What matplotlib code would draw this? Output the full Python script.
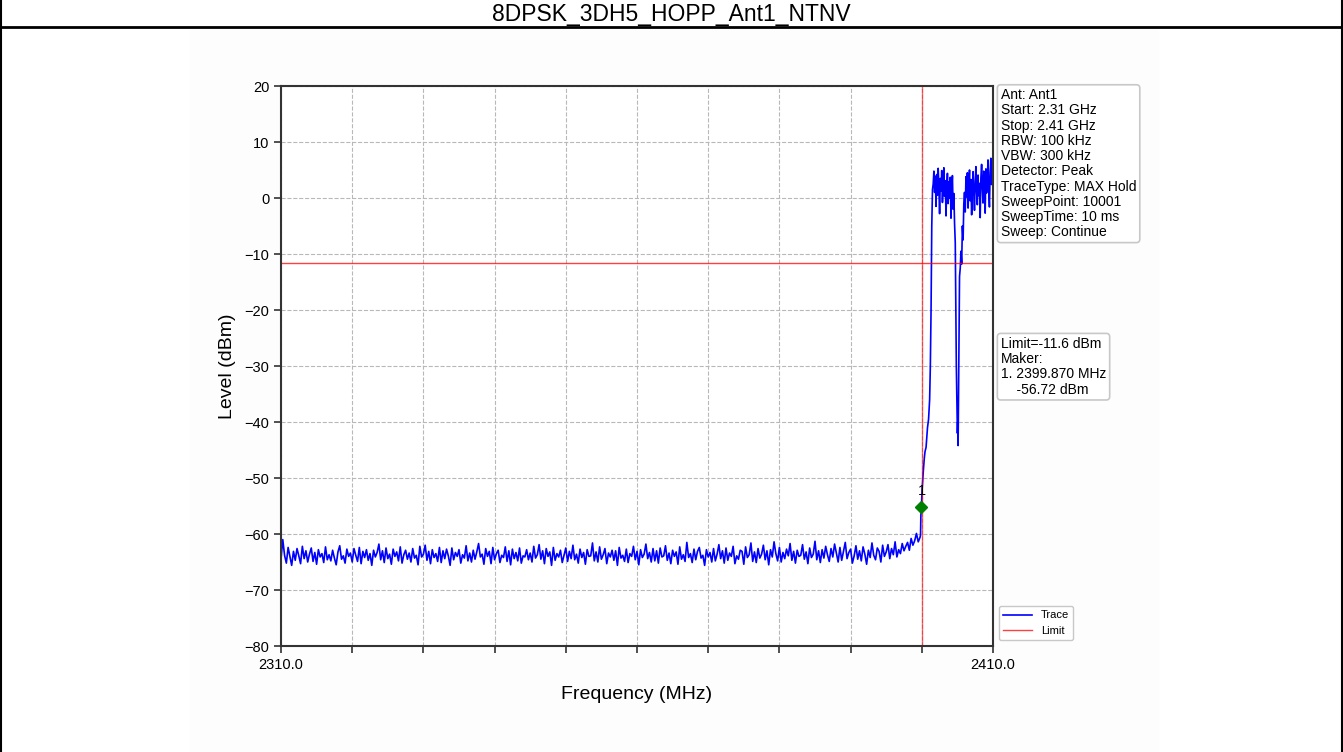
import numpy as np
import matplotlib.pyplot as plt
from matplotlib.patches import Rectangle
from matplotlib.lines import Line2D

plt.rcParams['font.family'] = ['Liberation Sans', 'DejaVu Sans']

title = '8DPSK_3DH5_HOPP_Ant1_NTNV'

# noise floor, one reading every 0.25 MHz from 2310.0
noise_start = 2310.0
noise_step = 0.25
noise_level = [
    -64.5, -61.0, -63.8, -65.2, -62.4, -64.0, -65.6, -63.1, -64.7, -62.6,
    -63.9, -65.3, -62.2, -64.4, -63.0, -65.0, -63.6, -62.5, -64.9, -63.3,
    -65.4, -62.8, -64.1, -63.5, -65.1, -62.3, -64.6, -63.7, -64.8, -62.9,
    -64.3, -65.5, -63.2, -62.1, -64.5, -63.9, -65.2, -62.7, -64.0, -63.4,
    -65.0, -62.6, -63.8, -64.9, -62.4, -65.3, -63.1, -64.2, -62.8, -64.7,
    -63.5, -65.6, -62.9, -64.1, -63.3, -61.8, -64.6, -63.0, -65.1, -62.5,
    -64.4, -63.6, -65.4, -62.7, -64.0, -63.2, -64.8, -62.3, -65.2, -63.7,
    -62.9, -64.5, -63.4, -65.0, -62.6, -64.3, -63.8, -65.5, -62.2, -64.1,
    -63.6, -62.0, -64.7, -63.1, -65.3, -62.8, -64.2, -63.5, -64.9, -62.4,
    -65.1, -63.0, -64.4, -62.7, -63.9, -65.6, -62.5, -64.6, -63.3, -64.0,
    -62.8, -65.2, -63.7, -64.3, -62.1, -64.8, -63.4, -65.0, -62.9, -64.5,
    -63.2, -61.7, -64.1, -63.6, -65.4, -62.6, -64.0, -63.1, -65.3, -62.4,
    -64.6, -63.5, -62.9, -65.1, -63.8, -64.2, -62.3, -64.9, -63.0, -65.5,
    -62.7, -64.4, -63.3, -64.8, -62.5, -65.2, -63.9, -64.1, -62.8, -64.6,
    -63.4, -65.0, -62.2, -64.3, -63.7, -61.9, -64.5, -63.0, -65.3, -62.6,
    -64.0, -63.2, -65.6, -62.4, -64.7, -63.5, -64.1, -62.9, -65.1, -63.8,
    -62.5, -64.9, -63.1, -64.4, -62.0, -64.6, -63.6, -65.2, -62.7, -64.2,
    -63.3, -65.4, -62.8, -64.0, -63.9, -61.6, -64.8, -63.2, -65.0, -62.3,
    -64.5, -63.7, -62.6, -65.3, -63.4, -64.1, -62.9, -64.7, -63.0, -65.6,
    -62.4, -64.3, -63.8, -64.9, -62.7, -65.1, -63.5, -64.0, -62.2, -64.6,
    -63.1, -65.5, -62.8, -64.2, -63.6, -61.8, -64.4, -63.3, -65.0, -62.6,
    -64.8, -63.0, -65.2, -62.5, -64.1, -63.9, -62.1, -64.7, -63.4, -65.3,
    -62.9, -64.0, -63.2, -65.4, -62.3, -64.5, -63.7, -64.9, -61.5, -64.2,
    -63.5, -65.1, -62.7, -64.6, -63.1, -62.4, -64.3, -63.8, -65.6, -62.8,
    -64.1, -63.3, -65.0, -62.6, -64.8, -63.6, -61.9, -64.4, -63.0, -65.2,
    -62.5, -64.7, -63.4, -64.0, -62.2, -65.3, -63.9, -64.5, -62.9, -63.1,
    -65.4, -62.3, -64.2, -63.7, -61.6, -64.9, -63.2, -65.1, -62.6, -64.3,
    -63.6, -62.0, -64.6, -63.0, -65.5, -62.8, -64.1, -61.4, -63.5, -64.8,
    -62.4, -65.0, -63.3, -64.4, -62.7, -63.9, -61.7, -64.7, -63.1, -65.2,
    -62.9, -64.0, -63.8, -61.9, -64.5, -63.2, -65.3, -62.5, -64.2, -63.6,
    -61.3, -64.6, -63.0, -65.1, -62.8, -64.3, -62.2, -63.7, -64.9, -62.6,
    -64.1, -61.8, -63.4, -65.0, -62.4, -64.7, -63.1, -61.5, -64.4, -63.3,
    -62.7, -65.2, -63.9, -62.1, -64.5, -63.0, -64.8, -62.3, -63.6, -65.4,
    -62.9, -64.2, -61.6, -63.8, -64.6, -62.5, -63.1, -65.0, -62.0, -64.0,
    -63.2, -61.9, -64.4, -62.6, -63.7, -61.4, -64.1, -62.8, -63.5, -61.7,
    -63.0, -62.2, -61.5, -62.9, -60.8, -62.0, -61.2, -59.9, -61.4, -60.6,
]

# band edge and in-band part of the sweep
edge_freq = [2399.82, 2399.87, 2399.95, 2400.05, 2400.2, 2400.35,
             2400.45, 2400.6, 2400.8, 2400.95, 2401.1, 2401.2, 2401.3, 2401.4, 2401.5]
edge_level = [-60.2, -56.7, -55.0, -52.0, -49.0, -46.5,
              -45.3, -44.5, -41.0, -39.5, -36.0, -30.0, -20.0, -5.0, 1.5]

band1_freq = [2401.6, 2401.7, 2401.8, 2401.9, 2402.0, 2402.1, 2402.2, 2402.3, 2402.4, 2402.5,
              2402.6, 2402.7, 2402.8, 2402.9, 2403.0, 2403.1, 2403.2, 2403.3, 2403.4, 2403.5,
              2403.6, 2403.7, 2403.8, 2403.9, 2404.0, 2404.1, 2404.2, 2404.3, 2404.4, 2404.5,
              2404.6]
band1_level = [2.5, 4.8, 1.0, 3.9, -1.5, 4.2, 0.5, 5.3, 2.0, -2.8,
               3.5, 1.2, 4.9, -0.8, 2.7, 5.4, 0.3, 3.1, -3.2, 1.8,
               4.4, -1.0, 2.9, 0.0, 3.7, -3.6, 1.5, 4.0, -2.0, 0.8,
               -4.5]

dip_freq = [2404.7, 2404.75, 2404.85, 2404.95, 2405.0, 2405.05, 2405.1, 2405.2,
            2405.3, 2405.4, 2405.5, 2405.6, 2405.7, 2405.8, 2405.9]
dip_level = [-8.0, -15.5, -30.0, -38.0, -42.0, -40.0, -44.2, -30.0,
             -14.0, -12.5, -9.5, -11.8, -5.0, -7.5, -1.0]

band2_freq = [2406.0, 2406.1, 2406.2, 2406.3, 2406.4, 2406.5, 2406.6, 2406.7, 2406.8, 2406.9,
              2407.0, 2407.1, 2407.2, 2407.3, 2407.4, 2407.5, 2407.6, 2407.7, 2407.8, 2407.9,
              2408.0, 2408.1, 2408.2, 2408.3, 2408.4, 2408.5, 2408.6, 2408.7, 2408.8, 2408.9,
              2409.0, 2409.1, 2409.2, 2409.3, 2409.4, 2409.5, 2409.6, 2409.7, 2409.8, 2409.9,
              2410.0]
band2_level = [1.0, -2.5, 3.8, 0.2, 4.5, -1.8, 2.1, 5.0, -0.5, 3.3,
               -3.0, 1.6, 4.7, 0.8, -2.2, 3.0, 5.6, 1.1, -1.2, 4.1,
               0.4, 2.6, -3.5, 3.6, 6.0, 1.9, -0.9, 4.8, 2.3, -2.7,
               5.2, 0.9, 3.4, 6.8, 1.3, -1.6, 4.6, 7.1, 2.4, 5.5,
               3.0]

limit_level = -11.6
limit_freq = 2400.0
marker_freq = 2399.95
marker_level = -55.2

info_text = ('Ant: Ant1\nStart: 2.31 GHz\nStop: 2.41 GHz\nRBW: 100 kHz\nVBW: 300 kHz\n'
             'Detector: Peak\nTraceType: MAX Hold\nSweepPoint: 10001\nSweepTime: 10 ms\n'
             'Sweep: Continue')
marker_text = 'Limit=-11.6 dBm\nMaker:\n1. 2399.870 MHz\n    -56.72 dBm'

noise_freq = noise_start + noise_step * np.arange(len(noise_level))
freq = np.concatenate([noise_freq, edge_freq, band1_freq, dip_freq, band2_freq])
level = np.concatenate([noise_level, edge_level, band1_level, dip_level, band2_level])

fig = plt.figure(figsize=(13.43, 7.52), dpi=100)
W, H = 1343, 752

# faint backdrop of the embedded plot image
fig.patches.append(Rectangle((190 / W, 0), (1158 - 190) / W, 1 - 28 / H,
                             transform=fig.transFigure, color='#fdfdfd', zorder=-5))
# page frame and title band
fig.add_artist(Line2D([0.5 / W, 0.5 / W], [0, 1], color='black', lw=1.5))
fig.add_artist(Line2D([1 - 1 / W, 1 - 1 / W], [0, 1], color='black', lw=1.5))
fig.add_artist(Line2D([0, 1], [1 - 27 / H, 1 - 27 / H], color='black', lw=2))
fig.text(0.5, 1 - 15 / H, title, ha='center', va='center', fontsize=16.5)

ax = fig.add_axes([281 / W, 1 - 646 / H, (993 - 281) / W, (646 - 86) / H])
ax.set_facecolor('white')

ax.plot(freq, level, color='blue', lw=1.2, label='Trace')
ax.axhline(limit_level, color='red', lw=1, alpha=0.75, label='Limit')
ax.axvline(limit_freq, color='red', lw=1, alpha=0.6)
ax.plot(marker_freq, marker_level, marker='D', color='green', ms=6, zorder=5)
ax.text(marker_freq, marker_level + 1.6, '1', ha='center', va='bottom', fontsize=10.5)

ax.set_xlim(2310, 2410)
ax.set_ylim(-80, 20)
xt = np.arange(2310, 2411, 10)
ax.set_xticks(xt)
ax.set_xticklabels(['2310.0'] + [''] * 9 + ['2410.0'])
ax.set_yticks(np.arange(-80, 21, 10))
ax.tick_params(labelsize=10.5, length=5, width=1.2, color='#333333')
ax.grid(True, ls='--', color='#b8b8b8', lw=0.8)
for s in ax.spines.values():
    s.set_linewidth(1.5)
    s.set_color('#333333')

ax.set_xlabel('Frequency (MHz)', fontsize=14, labelpad=10)
ax.set_ylabel('Level (dBm)', fontsize=14, labelpad=6)

box = dict(boxstyle='round,pad=0.25', fc='white', ec='#c8c8c8', lw=1.2)
ax.text(1.011, 0.996, info_text, transform=ax.transAxes, va='top', ha='left',
        fontsize=10, linespacing=1.11, bbox=box)
ax.text(1.011, 0.552, marker_text, transform=ax.transAxes, va='top', ha='left',
        fontsize=10, linespacing=1.11, bbox=box)

ax.legend(loc='lower left', bbox_to_anchor=(1.0, 0.0), fontsize=8, handlelength=2.6,
          frameon=True, edgecolor='#c8c8c8', fancybox=True, framealpha=1)

fig.savefig('out.png', dpi=100)
